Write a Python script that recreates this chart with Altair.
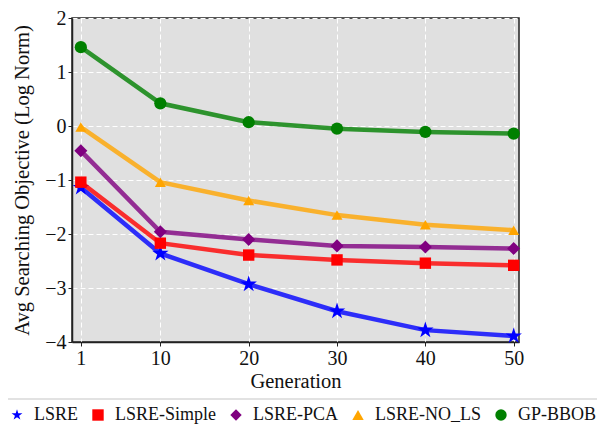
import altair as alt
import pandas as pd

generations = [1, 10, 20, 30, 40, 50]
series_names = ["LSRE", "LSRE-Simple", "LSRE-PCA", "LSRE-NO_LS", "GP-BBOB"]
lsre = [-1.14, -2.36, -2.93, -3.43, -3.78, -3.89]
lsre_simple = [-1.04, -2.17, -2.39, -2.48, -2.54, -2.58]
lsre_pca = [-0.46, -1.96, -2.10, -2.22, -2.24, -2.27]
lsre_no_ls = [-0.02, -1.04, -1.38, -1.65, -1.83, -1.93]
gp_bbob = [1.46, 0.42, 0.07, -0.05, -0.11, -0.14]

colors = ["#0000ff", "#ff0000", "#800080", "#ffa500", "#008000"]
star = ("M0,-1L0.2245,-0.309L0.951,-0.309L0.363,0.118L0.588,0.809L0,0.382"
        "L-0.588,0.809L-0.363,0.118L-0.951,-0.309L-0.2245,-0.309Z")
shapes = [star, "square", "diamond", "triangle-up", "circle"]
marker_sizes = [300, 130, 170, 120, 150]

values = [lsre, lsre_simple, lsre_pca, lsre_no_ls, gp_bbob]
rows = []
for name, vals in zip(series_names, values):
    for g, v in zip(generations, vals):
        rows.append({"Generation": g, "Value": v, "Series": name})
df = pd.DataFrame(rows)

font = "Liberation Serif"

x = alt.X("Generation:Q",
          scale=alt.Scale(domain=[0, 50.6], nice=False, zero=False),
          axis=alt.Axis(values=generations, title="Generation"))
y = alt.Y("Value:Q",
          scale=alt.Scale(domain=[-4, 2], nice=False),
          axis=alt.Axis(values=[-4, -3, -2, -1, 0, 1, 2],
                        title="Avg Searching Objective (Log Norm)"))
cscale = alt.Scale(domain=series_names, range=colors)
color = alt.Color("Series:N", scale=cscale,
                  legend=alt.Legend(title=None, orient="none", direction="horizontal",
                                    legendX=-64, legendY=388, columns=5,
                                    columnPadding=10, symbolSize=130,
                                    labelFont=font, labelFontSize=18,
                                    labelColor="#111111", symbolStrokeWidth=0,
                                    labelOffset=8))
shape = alt.Shape("Series:N", scale=alt.Scale(domain=series_names, range=shapes))

base = alt.Chart(df)
layers = []
for name, col, sz in zip(series_names, colors, marker_sizes):
    sub = base.transform_filter(alt.datum.Series == name)
    layers.append(sub.mark_line(strokeWidth=4.5, opacity=0.8, color=col).encode(x=x, y=y))
    layers.append(
        sub.mark_point(filled=True, opacity=1, strokeWidth=0, size=sz)
        .encode(x=x, y=y, color=color, shape=shape)
    )

rule = alt.Chart(pd.DataFrame({"a": [0]})).mark_rule(color="#d9d9d9", strokeWidth=1.5).encode(
    x=alt.value(-64), x2=alt.value(530), y=alt.value(381))

chart = alt.layer(*layers, rule).properties(
    width=447, height=324,
    autosize=alt.AutoSizeParams(type="none"),
    padding={"left": 64, "top": 10, "right": 78, "bottom": 82},
).configure(font=font).configure_view(
    fill="#e0e0e0", stroke="#222222", strokeWidth=1.5
).configure_axis(
    labelFont=font, titleFont=font, labelFontSize=20, titleFontSize=20.5,
    titleFontWeight="normal", labelColor="#111111", titleColor="#111111",
    domainColor="#222222", domainWidth=1.5, tickColor="#222222", tickSize=4,
    tickWidth=1, labelPadding=2,
    grid=True, gridColor="white", gridDash=[5, 3], gridWidth=1, gridOpacity=1
).configure_axisX(titlePadding=3, labelPadding=2).configure_axisY(titlePadding=12)

chart.save("out.html", embed_options={"renderer": "svg", "actions": False})
